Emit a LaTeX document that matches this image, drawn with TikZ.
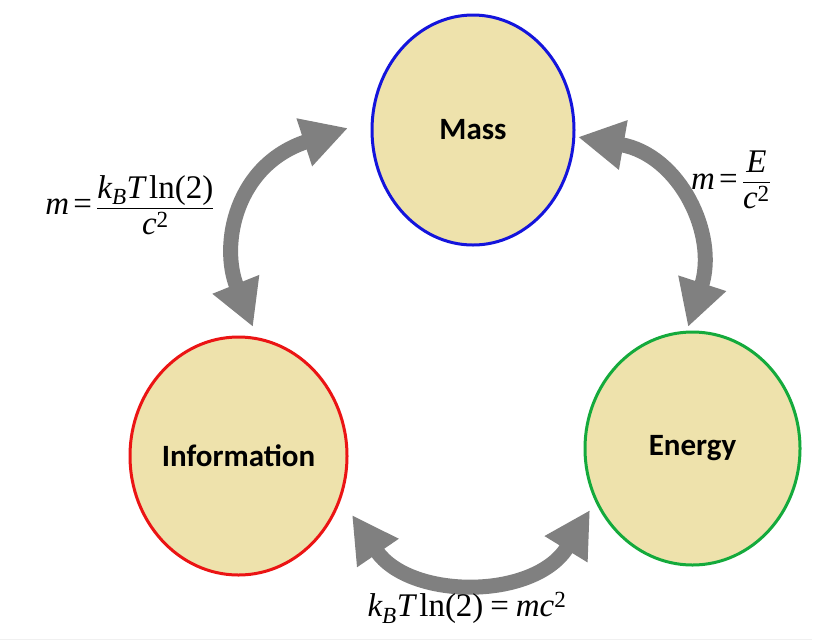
\documentclass[tikz,border=0pt]{standalone}
\usepackage{amsmath}
\usepackage{fontspec}
\setmainfont{Liberation Serif}
\newfontfamily\lblfont{Carlito}
\usetikzlibrary{shapes.geometric,arrows.meta}
\definecolor{tanfill}{RGB}{238,226,172}
\definecolor{arrowgray}{RGB}{128,128,128}
\definecolor{massblue}{RGB}{20,20,220}
\definecolor{infored}{RGB}{235,20,20}
\definecolor{energygreen}{RGB}{20,170,60}
\newcommand\vi[1]{\text{\itshape #1}}
\newcommand\vr[1]{\text{\upshape #1}}
\begin{document}
\begin{tikzpicture}[x=1pt,y=-1pt,
  bubble/.style={ellipse, fill=tanfill, line width=3pt, inner sep=0pt,
    font=\lblfont\bfseries\fontsize{31}{35}\selectfont},
  arr/.style={draw=arrowgray, line width=15pt,
    {Triangle[length=46pt,width=47pt]}-{Triangle[length=46pt,width=47pt]}},
  eq/.style={inner sep=0pt, font=\fontsize{33}{37}\selectfont}]
\useasboundingbox[fill=white] (0,0) rectangle (837,641);
\draw[gray!12, line width=1.2pt] (0,639.5) -- (812,639.5);

\node[bubble, draw=massblue, minimum width=202pt, minimum height=230pt] (mass) at (473,130) {Mass};
\node[bubble, draw=infored, minimum width=217pt, minimum height=238pt] (info) at (238.5,456) {Information};
\node[bubble, draw=energygreen, minimum width=215pt, minimum height=233pt] (energy) at (692.5,448.5) {Energy};

\coordinate (l1) at (253,327);
\coordinate (l2) at (348,128);
\coordinate (r1) at (578,137);
\coordinate (r2) at (688,327);
\coordinate (b1) at (352,515);
\coordinate (b2) at (590,510);

\draw[arr] (l1) .. controls (220,245) and (235,165) .. (l2);
\draw[arr] (r1) .. controls (680,155) and (718,235) .. (r2);
\draw[arr] (b1) .. controls (410,600) and (535,600) .. (b2);

\node[eq] (eqleft) at (130,205) {$\vi{m}\,\vr{=}\,\dfrac{\vi{k}_{\vi{B}}\vi{T}\,\vr{ln(2)}}{\vi{c}^{\vr{2}}}$};
\node[eq] (eqright) at (731,180) {$\vi{m}\,\vr{=}\,\dfrac{\vi{E}}{\vi{c}^{\vr{2}}}$};
\node[eq] (eqbottom) at (467,608) {$\vi{k}_{\vi{B}}\vi{T}\,\vr{ln(2)}\mathrel{\vr{=}}\vi{m}\vi{c}^{\vr{2}}$};
\end{tikzpicture}
\end{document}
